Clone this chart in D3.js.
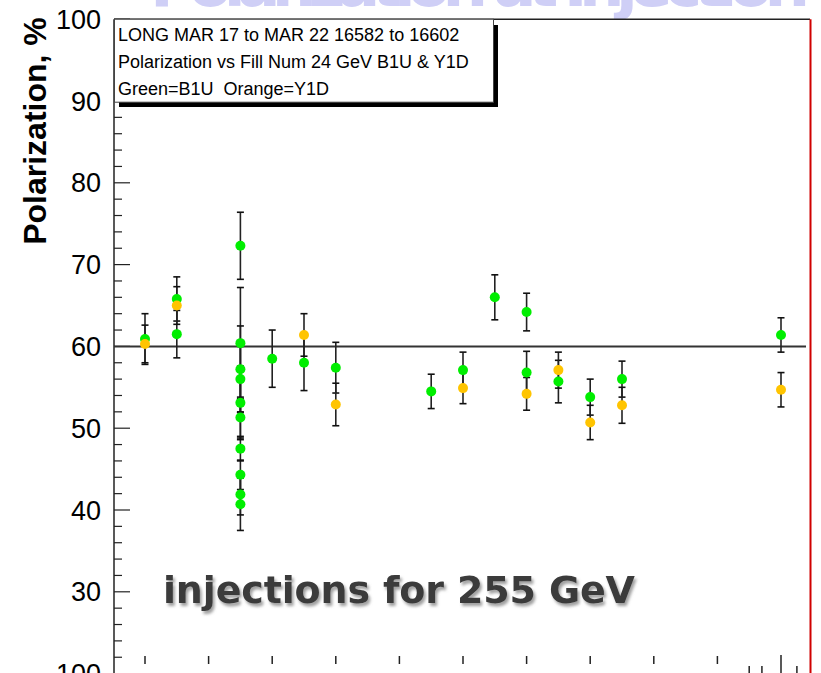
<!DOCTYPE html>
<html>
<head>
<meta charset="utf-8">
<script src="https://cdn.jsdelivr.net/npm/d3@7"></script>
<style>
	body { margin: 0; background: #fff; overflow: hidden; }
	svg { display: block; }
</style>
</head>
<body>
<svg width="821" height="673"></svg>
<script>
// Data
//-----------------------------------------------------------------------------//
const greenFills = [16582, 16583, 16583, 16585, 16585, 16585, 16585, 16585, 16585, 16585, 16585, 16585, 16585,
	16586, 16587, 16588, 16591, 16592, 16593, 16594, 16594, 16595, 16596, 16597, 16602];
const greenPol = [60.9, 65.8, 61.5, 72.3, 60.4, 57.2, 56.0, 53.1, 51.3, 47.5, 44.3, 41.9, 40.7,
	58.5, 58.0, 57.4, 54.5, 57.1, 66.0, 64.2, 56.8, 55.7, 53.8, 56.0, 61.4];
const greenErr = [3.1, 2.7, 2.9, 4.1, 6.8, 5.3, 4.0, 4.5, 2.5, 1.5, 1.8, 2.5, 3.2,
	3.5, 3.4, 3.1, 2.1, 2.2, 2.75, 2.3, 2.6, 2.6, 2.2, 2.2, 2.1];

const orangeFills = [16582, 16583, 16587, 16588, 16592, 16594, 16595, 16596, 16597, 16602];
const orangePol = [60.3, 65.0, 61.4, 52.9, 54.9, 54.2, 57.1, 50.7, 52.8, 54.7];
const orangeErr = [2.3, 2.3, 2.6, 2.6, 1.9, 2.0, 2.2, 2.1, 2.2, 2.1];

const yTicks = [100, 90, 80, 70, 60, 50, 40, 30, 20];
const yTickLabels = ["100", "90", "80", "70", "60", "50", "40", "30", "100"];
const xTicksMajor = [16582, 16584, 16586, 16588, 16590, 16592, 16594, 16596, 16598, 16600];
const xTicksMinor = [16601, 16601.4, 16602.5];
const xTickTall = [16602];
const meanPol = 60;

const legendLines = [
	"LONG MAR 17 to MAR 22 16582 to 16602",
	"Polarization vs Fill Num 24 GeV B1U & Y1D",
	"Green=B1U  Orange=Y1D"
];

// Scales
//-----------------------------------------------------------------------------//
const svg = d3.select("svg");
const x = d3.scaleLinear().domain([16582, 16602]).range([145, 781]);
const y = d3.scaleLinear().domain([20, 100]).range([673.6, 19.2]);
const axisX = 114;

// Faded slide title at the very top (mostly cut off)
svg.append("text")
	.attr("x", 150)
	.attr("y", 6)
	.attr("font-family", "DejaVu Sans")
	.attr("font-weight", "bold")
	.attr("font-size", 64)
	.attr("fill", "#cfcff6")
	.attr("textLength", 660)
	.text("Polarization at Injection");

// Frame: top line and red right edge
//-----------------------------------------------------------------------------//
svg.append("line")
	.attr("x1", axisX).attr("x2", 810)
	.attr("y1", y(100)).attr("y2", y(100))
	.attr("stroke", "#222").attr("stroke-width", 1.5);

svg.append("line")
	.attr("x1", 810.5).attr("x2", 810.5)
	.attr("y1", y(100)).attr("y2", 673)
	.attr("stroke", "#d00000").attr("stroke-width", 2);

// Y axis with major and minor ticks
//-----------------------------------------------------------------------------//
svg.append("line")
	.attr("x1", axisX).attr("x2", axisX)
	.attr("y1", y(100)).attr("y2", 673)
	.attr("stroke", "#222").attr("stroke-width", 1.5);

const minorVals = d3.range(22, 100, 2).filter(v => v % 10 !== 0);
svg.selectAll(".minor")
	.data(minorVals)
	.join("line")
	.attr("x1", axisX).attr("x2", axisX + 8)
	.attr("y1", d => y(d)).attr("y2", d => y(d))
	.attr("stroke", "#222").attr("stroke-width", 1.2);

svg.selectAll(".major")
	.data(yTicks)
	.join("line")
	.attr("x1", axisX).attr("x2", axisX + 16)
	.attr("y1", d => y(d)).attr("y2", d => y(d))
	.attr("stroke", "#222").attr("stroke-width", 1.2);

svg.selectAll(".ylab")
	.data(yTicks)
	.join("text")
	.attr("x", 101)
	.attr("y", d => y(d) + 9.5)
	.attr("text-anchor", "end")
	.attr("font-family", "Liberation Sans, Arial")
	.attr("font-size", 27)
	.attr("fill", "#000")
	.text((d, i) => yTickLabels[i]);

svg.append("text")
	.attr("transform", "translate(46,131) rotate(-90)")
	.attr("text-anchor", "middle")
	.attr("font-family", "Liberation Sans, Arial")
	.attr("font-weight", "bold")
	.attr("font-size", 32)
	.attr("fill", "#000")
	.text("Polarization, %");

// X axis ticks along the bottom
//-----------------------------------------------------------------------------//
svg.selectAll(".xmaj")
	.data(xTicksMajor)
	.join("line")
	.attr("x1", d => x(d)).attr("x2", d => x(d))
	.attr("y1", 656).attr("y2", 664)
	.attr("stroke", "#222").attr("stroke-width", 1.5);

svg.selectAll(".xmin")
	.data(xTicksMinor)
	.join("line")
	.attr("x1", d => x(d)).attr("x2", d => x(d))
	.attr("y1", 666).attr("y2", 673)
	.attr("stroke", "#222").attr("stroke-width", 1.5);

svg.selectAll(".xtall")
	.data(xTickTall)
	.join("line")
	.attr("x1", d => x(d)).attr("x2", d => x(d))
	.attr("y1", 655).attr("y2", 673)
	.attr("stroke", "#222").attr("stroke-width", 1.5);

// Mean line at 60 %
svg.append("line")
	.attr("x1", axisX).attr("x2", 806)
	.attr("y1", y(meanPol)).attr("y2", y(meanPol))
	.attr("stroke", "#333").attr("stroke-width", 2);

// Error bars + markers
//-----------------------------------------------------------------------------//
function drawSeries(fills, pol, err, colour) {
	const rows = fills.map((f, i) => ({ f: f, v: pol[i], e: err[i] }));
	const g = svg.append("g");

	g.selectAll(".bar")
		.data(rows)
		.join("line")
		.attr("x1", d => x(d.f)).attr("x2", d => x(d.f))
		.attr("y1", d => y(d.v + d.e)).attr("y2", d => y(d.v - d.e))
		.attr("stroke", "#222").attr("stroke-width", 1.6);

	// caps
	[1, -1].forEach(s => {
		g.selectAll(".cap" + s)
			.data(rows)
			.join("line")
			.attr("x1", d => x(d.f) - 3.5).attr("x2", d => x(d.f) + 3.5)
			.attr("y1", d => y(d.v + s * d.e)).attr("y2", d => y(d.v + s * d.e))
			.attr("stroke", "#111").attr("stroke-width", 1.6);
	});

	return { g: g, rows: rows, colour: colour };
}

const gs = drawSeries(greenFills, greenPol, greenErr, "#00ee00");
const os = drawSeries(orangeFills, orangePol, orangeErr, "#ffc400");

[gs, os].forEach(s => {
	svg.append("g")
		.selectAll("circle")
		.data(s.rows)
		.join("circle")
		.attr("cx", d => x(d.f))
		.attr("cy", d => y(d.v))
		.attr("r", 5)
		.attr("fill", s.colour);
});

// Legend box with shadow
//-----------------------------------------------------------------------------//
svg.append("rect")
	.attr("x", 119).attr("y", 25)
	.attr("width", 379).attr("height", 82)
	.attr("fill", "#000");

svg.append("rect")
	.attr("x", axisX + 0.5).attr("y", y(100))
	.attr("width", 379).attr("height", 83)
	.attr("fill", "#fff")
	.attr("stroke", "#444").attr("stroke-width", 1);

svg.selectAll(".leg")
	.data(legendLines)
	.join("text")
	.attr("x", 118)
	.attr("y", (d, i) => 41 + i * 27)
	.attr("font-family", "Liberation Sans, Arial")
	.attr("font-size", 18)
	.attr("fill", "#000")
	.style("white-space", "pre")
	.text(d => d);

// Annotation
//-----------------------------------------------------------------------------//
const defs = svg.append("defs");
const f = defs.append("filter").attr("id", "shadow")
	.attr("x", "-5%").attr("y", "-20%").attr("width", "115%").attr("height", "150%");
f.append("feDropShadow")
	.attr("dx", 2).attr("dy", 3).attr("stdDeviation", 1.5)
	.attr("flood-color", "#888").attr("flood-opacity", 0.8);

svg.append("text")
	.attr("x", 163)
	.attr("y", 603)
	.attr("font-family", "DejaVu Sans")
	.attr("font-weight", "bold")
	.attr("font-size", 38)
	.attr("fill", "#3a3a3a")
	.attr("textLength", 472)
	.attr("filter", "url(#shadow)")
	.text("injections for 255 GeV");
</script>
</body>
</html>
